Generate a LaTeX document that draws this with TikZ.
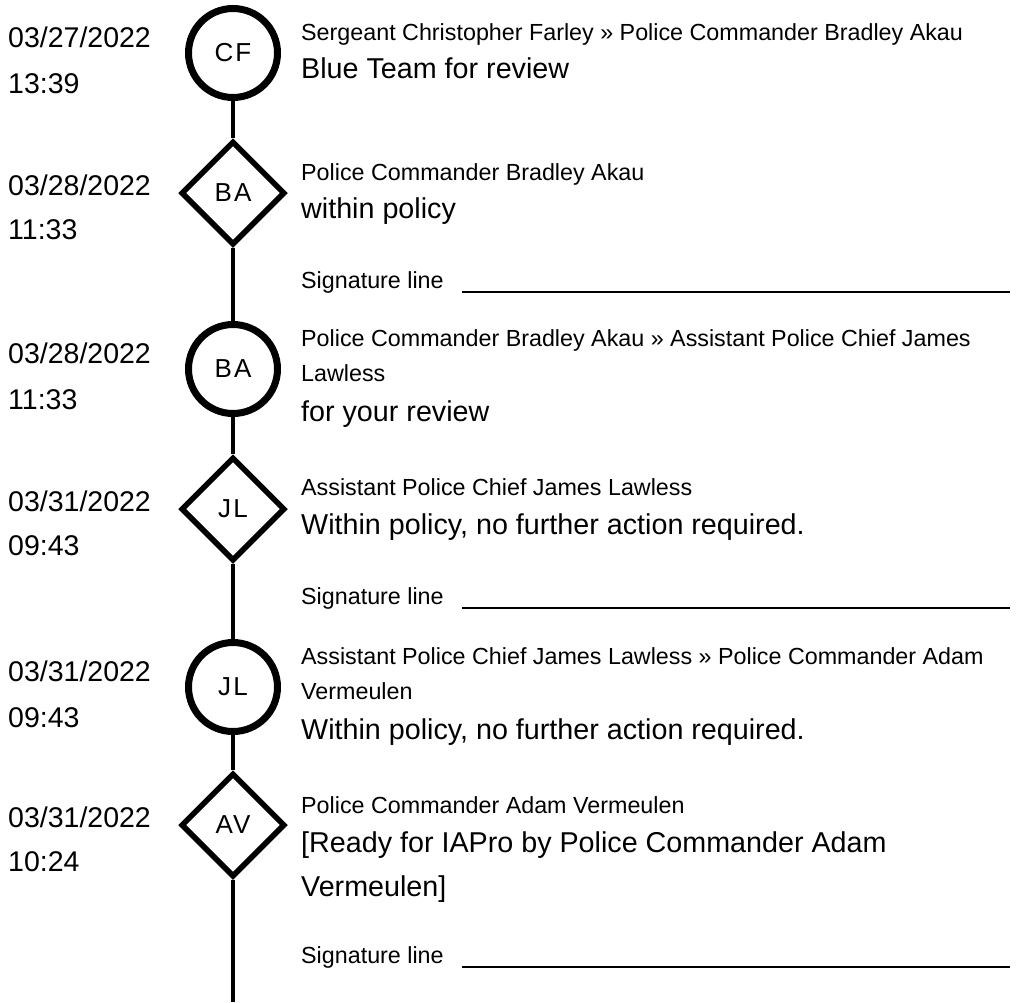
\documentclass[tikz,border=0pt]{standalone}
\usepackage{fontspec}
\setmainfont{Liberation Sans}
\newfontfamily\initfont[LetterSpace=8]{Liberation Sans}
\usetikzlibrary{shapes.geometric}

\tikzset{
  sent/.style={circle,draw,line width=7pt,minimum size=89pt,inner sep=0pt,font=\initfont\fontsize{26}{26}\selectfont},
  signed/.style={diamond,draw,line width=5.5pt,minimum size=104pt,inner sep=0pt,font=\initfont\fontsize{26}{26}\selectfont},
  stamp/.style={anchor=base west,inner sep=0pt,font=\fontsize{28.5}{28.5}\selectfont},
  who/.style={anchor=base west,inner sep=0pt,font=\fontsize{23.3}{23.3}\selectfont},
  note/.style={anchor=base west,inner sep=0pt,font=\fontsize{28.7}{28.7}\selectfont},
  timeline/.style={line width=3.5pt},
  sigline/.style={line width=2.5pt}
}

\begin{document}
\begin{tikzpicture}[x=1pt,y=-1pt]
        \useasboundingbox (0,0) rectangle (1016,1002);
        % Steps on the timeline
        \node[sent] (cf) at (233,53) {CF};
        \node[signed] (ba1) at (233,193) {BA};
        \node[sent] (ba2) at (233,369) {BA};
        \node[signed] (jl1) at (233,509) {JL};
        \node[sent] (jl2) at (233,687) {JL};
        \node[signed] (av) at (233,825) {AV};
        \coordinate (tlend) at (233,1002);
        \foreach \a/\b in {cf/ba1,ba1/ba2,ba2/jl1,jl1/jl2,jl2/av,av/tlend}
            \draw[timeline] (\a) -- (\b); %joining steps

        % Dates
        \node[stamp] (cfdate) at (8,47) {03/27/2022};
        \node[stamp] (cftime) at (8,93) {13:39};
        \node[stamp] (ba1date) at (8,195) {03/28/2022};
        \node[stamp] (ba1time) at (8,239) {11:33};
        \node[stamp] (ba2date) at (8,363) {03/28/2022};
        \node[stamp] (ba2time) at (8,409) {11:33};
        \node[stamp] (jl1date) at (8,511) {03/31/2022};
        \node[stamp] (jl1time) at (8,555) {09:43};
        \node[stamp] (jl2date) at (8,681) {03/31/2022};
        \node[stamp] (jl2time) at (8,727) {09:43};
        \node[stamp] (avdate) at (8,827) {03/31/2022};
        \node[stamp] (avtime) at (8,871) {10:24};

        % Entries
        \node[who] (cfwho) at (301,40) {Sergeant Christopher Farley » Police Commander Bradley Akau};
        \node[note] (cfnote) at (301,78) {Blue Team for review};

        \node[who] (ba1who) at (301,180) {Police Commander Bradley Akau};
        \node[note] (ba1note) at (301,218) {within policy};
        \node[who] (ba1sig) at (301,288) {Signature line};
        \draw[sigline] (462,292) -- (1010,292);

        \node[who] (ba2who) at (301,346) {Police Commander Bradley Akau » Assistant Police Chief James};
        \node[who] (ba2whob) at (301,381) {Lawless};
        \node[note] (ba2note) at (301,421) {for your review};

        \node[who] (jl1who) at (301,495) {Assistant Police Chief James Lawless};
        \node[note] (jl1note) at (301,534) {Within policy, no further action required.};
        \node[who] (jl1sig) at (301,604) {Signature line};
        \draw[sigline] (462,608) -- (1010,608);

        \node[who] (jl2who) at (301,664) {Assistant Police Chief James Lawless » Police Commander Adam};
        \node[who] (jl2whob) at (301,699) {Vermeulen};
        \node[note] (jl2note) at (301,739) {Within policy, no further action required.};

        \node[who] (avwho) at (301,813) {Police Commander Adam Vermeulen};
        \node[note] (avnote) at (301,852) {[Ready for IAPro by Police Commander Adam};
        \node[note] (avnoteb) at (301,896) {Vermeulen]};
        \node[who] (avsig) at (301,963) {Signature line};
        \draw[sigline] (462,967) -- (1010,967);
\end{tikzpicture}
\end{document}
